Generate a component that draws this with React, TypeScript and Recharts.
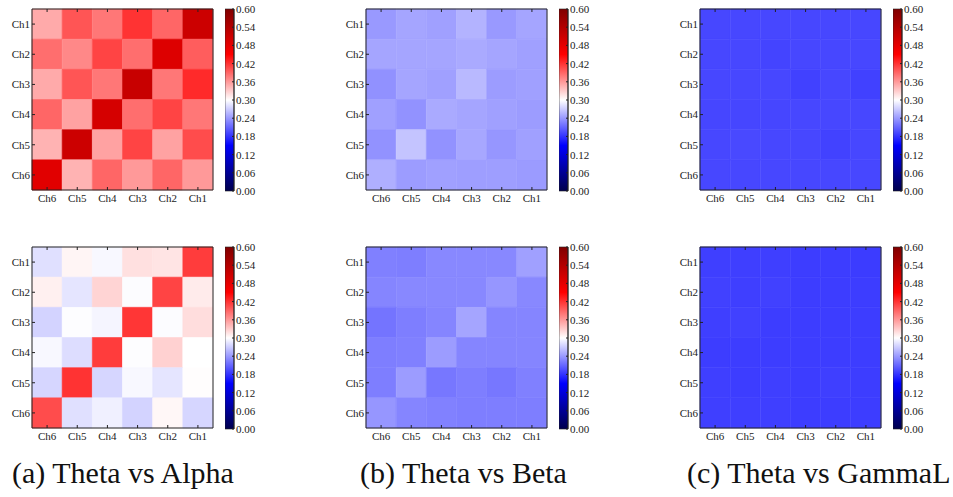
import React from "react";
import { Bar, BarChart, Cell, XAxis, YAxis } from "recharts";

// rows top -> bottom
const rowLabels = ["Ch1", "Ch2", "Ch3", "Ch4", "Ch5", "Ch6"];
// columns left -> right
const colLabels = ["Ch6", "Ch5", "Ch4", "Ch3", "Ch2", "Ch1"];
const colorbarTicks = [0, 0.06, 0.12, 0.18, 0.24, 0.3, 0.36, 0.42, 0.48, 0.54, 0.6];
const vmin = 0;
const vmax = 0.6;

const thetaAlphaTop = [
  [0.35, 0.4, 0.38, 0.42, 0.39, 0.51],
  [0.385, 0.37, 0.41, 0.385, 0.49, 0.395],
  [0.35, 0.4, 0.38, 0.515, 0.38, 0.425],
  [0.39, 0.355, 0.5, 0.385, 0.41, 0.38],
  [0.345, 0.51, 0.355, 0.41, 0.355, 0.405],
  [0.485, 0.345, 0.39, 0.36, 0.39, 0.36]
];

const thetaAlphaBottom = [
  [0.282, 0.306, 0.296, 0.318, 0.316, 0.415],
  [0.309, 0.285, 0.325, 0.298, 0.41, 0.312],
  [0.274, 0.299, 0.294, 0.418, 0.298, 0.32],
  [0.296, 0.28, 0.415, 0.299, 0.327, 0.3],
  [0.276, 0.42, 0.276, 0.296, 0.285, 0.301],
  [0.405, 0.282, 0.291, 0.274, 0.305, 0.276]
];

const thetaBetaTop = [
  [0.24, 0.247, 0.244, 0.255, 0.24, 0.247],
  [0.247, 0.247, 0.247, 0.25, 0.247, 0.244],
  [0.235, 0.247, 0.244, 0.259, 0.242, 0.244],
  [0.244, 0.236, 0.25, 0.247, 0.244, 0.242],
  [0.236, 0.265, 0.236, 0.248, 0.238, 0.244],
  [0.253, 0.242, 0.244, 0.243, 0.243, 0.241]
];

const thetaBetaBottom = [
  [0.225, 0.224, 0.23, 0.23, 0.23, 0.244],
  [0.228, 0.23, 0.23, 0.23, 0.238, 0.23],
  [0.218, 0.224, 0.228, 0.247, 0.228, 0.228],
  [0.224, 0.225, 0.242, 0.228, 0.228, 0.228],
  [0.224, 0.242, 0.22, 0.224, 0.22, 0.225],
  [0.238, 0.228, 0.226, 0.224, 0.224, 0.224]
];

const thetaGammaTop = [
  [0.192, 0.192, 0.192, 0.192, 0.192, 0.192],
  [0.192, 0.192, 0.19, 0.192, 0.192, 0.192],
  [0.192, 0.192, 0.192, 0.188, 0.192, 0.188],
  [0.191, 0.191, 0.191, 0.192, 0.192, 0.192],
  [0.192, 0.193, 0.192, 0.192, 0.189, 0.192],
  [0.192, 0.192, 0.192, 0.192, 0.192, 0.192]
];

const thetaGammaBottom = [
  [0.187, 0.187, 0.187, 0.186, 0.186, 0.185],
  [0.188, 0.187, 0.188, 0.186, 0.186, 0.186],
  [0.187, 0.188, 0.186, 0.186, 0.186, 0.186],
  [0.186, 0.186, 0.186, 0.186, 0.186, 0.186],
  [0.187, 0.186, 0.187, 0.186, 0.187, 0.186],
  [0.187, 0.187, 0.187, 0.186, 0.186, 0.186]
];

const captions = ["(a) Theta vs Alpha", "(b) Theta vs Beta", "(c) Theta vs GammaL"];

const INK = "#222";
const FONT = "'Liberation Serif', 'Times New Roman', Times, serif";
const TICK_LEN = 3;
const CELL_W = 181;

// matplotlib "seismic"
const seismicStops: [number, number[]][] = [
  [0, [0, 0, 77]],
  [0.25, [0, 0, 255]],
  [0.5, [255, 255, 255]],
  [0.75, [255, 0, 0]],
  [1, [128, 0, 0]]
];

function seismic(v: number) {
  const t = Math.min(1, Math.max(0, (v - vmin) / (vmax - vmin)));
  for (let i = 1; i < seismicStops.length; i++) {
    const [p1, c1] = seismicStops[i];
    const [p0, c0] = seismicStops[i - 1];
    if (t <= p1) {
      const f = (t - p0) / (p1 - p0);
      const c = c0.map((a, k) => Math.round(a + (c1[k] - a) * f));
      return `rgb(${c[0]},${c[1]},${c[2]})`;
    }
  }
  return "rgb(128,0,0)";
}

const cellData = colLabels.map((col) => {
  const d: Record<string, string | number> = { col };
  rowLabels.forEach((r) => (d[r] = 1));
  return d;
});

const BottomTick = (props: any) => {
  const { x, y, payload } = props;
  const axisY = y - 4;
  return (
    <g>
      <line x1={x} x2={x} y1={axisY} y2={axisY - TICK_LEN} stroke={INK} />
      <text x={x} y={y} dy="0.71em" textAnchor="middle" fontSize={11} fontFamily={FONT} fill={INK}>
        {payload.value}
      </text>
    </g>
  );
};

const LeftTick = (props: any) => {
  const { x, y, index } = props;
  const axisX = x + 2;
  return (
    <g>
      <line x1={axisX} x2={axisX + TICK_LEN} y1={y} y2={y} stroke={INK} />
      <text x={x} y={y} dy="0.355em" textAnchor="end" fontSize={11} fontFamily={FONT} fill={INK}>
        {rowLabels[index]}
      </text>
    </g>
  );
};

const TopTick = (props: any) => (
  <line x1={props.x} x2={props.x} y1={props.y} y2={props.y + TICK_LEN} stroke={INK} />
);

const RightTick = (props: any) => (
  <line x1={props.x} x2={props.x - TICK_LEN} y1={props.y} y2={props.y} stroke={INK} />
);

const ColorbarTick = (props: any) => {
  const { x, y, payload } = props;
  const axisX = x - 2;
  return (
    <g>
      <line x1={axisX} x2={axisX - 2} y1={y} y2={y} stroke={INK} />
      <text x={x} y={y} dy="0.355em" textAnchor="start" fontSize={11} fontFamily={FONT} fill={INK}>
        {Number(payload.value).toFixed(2)}
      </text>
    </g>
  );
};

function Heatmap({ matrix, left, top }: { matrix: number[][]; left: number; top: number }) {
  const rowTicks = rowLabels.map((_, i) => i + 0.5);
  return (
    <div style={{ position: "absolute", left, top }}>
      <BarChart
        width={32 + CELL_W + 5}
        height={9 + CELL_W + 20}
        data={cellData}
        margin={{ top: 0, right: 0, bottom: 0, left: 0 }}
        barCategoryGap={0}
        barGap={0}
      >
        <XAxis
          xAxisId="bottom"
          dataKey="col"
          height={20}
          interval={0}
          tickSize={0}
          tickMargin={4}
          tick={<BottomTick />}
          axisLine={{ stroke: INK }}
        />
        <XAxis
          xAxisId="top"
          orientation="top"
          dataKey="col"
          height={9}
          interval={0}
          tickSize={0}
          tickMargin={0}
          tick={<TopTick />}
          axisLine={{ stroke: INK }}
        />
        <YAxis
          yAxisId="left"
          type="number"
          domain={[0, rowLabels.length]}
          ticks={rowTicks}
          reversed
          width={32}
          interval={0}
          tickSize={0}
          tickMargin={2}
          tick={<LeftTick />}
          axisLine={{ stroke: INK }}
        />
        <YAxis
          yAxisId="right"
          orientation="right"
          type="number"
          domain={[0, rowLabels.length]}
          ticks={rowTicks}
          reversed
          width={5}
          interval={0}
          tickSize={0}
          tickMargin={0}
          tick={<RightTick />}
          axisLine={{ stroke: INK }}
        />
        {rowLabels.map((r, i) => (
          <Bar key={r} dataKey={r} stackId="m" xAxisId="bottom" yAxisId="left" isAnimationActive={false}>
            {colLabels.map((c, j) => {
              const fill = seismic(matrix[i][j]);
              return <Cell key={c} fill={fill} stroke={fill} strokeWidth={0.6} />;
            })}
          </Bar>
        ))}
      </BarChart>
    </div>
  );
}

function Colorbar({ left, top, id }: { left: number; top: number; id: string }) {
  // gradient runs top (vmax) to bottom (vmin), so offsets ascend in reverse stop order
  const stops = [...seismicStops].reverse();
  return (
    <div style={{ position: "absolute", left, top }}>
      <BarChart
        width={9 + 41}
        height={200}
        data={[{ name: "cb", v: vmax }]}
        margin={{ top: 9, right: 0, bottom: 9, left: 0 }}
        barCategoryGap={0}
      >
        <defs>
          <linearGradient id={id} x1="0" y1="0" x2="0" y2="1">
            {stops.map(([p, c]) => (
              <stop key={p} offset={1 - p} stopColor={`rgb(${c[0]},${c[1]},${c[2]})`} />
            ))}
          </linearGradient>
        </defs>
        <XAxis dataKey="name" hide />
        <YAxis
          orientation="right"
          type="number"
          domain={[vmin, vmax]}
          ticks={colorbarTicks}
          width={41}
          interval={0}
          tickSize={0}
          tickMargin={2}
          tick={<ColorbarTick />}
          axisLine={{ stroke: INK }}
        />
        <Bar dataKey="v" fill={`url(#${id})`} stroke={INK} strokeWidth={0.6} isAnimationActive={false} />
      </BarChart>
    </div>
  );
}

const panels = [
  { top: thetaAlphaTop, bottom: thetaAlphaBottom },
  { top: thetaBetaTop, bottom: thetaBetaBottom },
  { top: thetaGammaTop, bottom: thetaGammaBottom }
];

const captionLeft = [12, 360, 687];

export default function App() {
  return (
    <div style={{ position: "absolute", left: 0, top: 0, width: 953, height: 497, background: "#fff", overflow: "hidden" }}>
      {panels.map((p, k) => (
        <React.Fragment key={k}>
          <Heatmap matrix={p.top} left={334 * k} top={0} />
          <Heatmap matrix={p.bottom} left={334 * k} top={238} />
          <Colorbar left={225 + 334 * k} top={0} id={`cb-top-${k}`} />
          <Colorbar left={225 + 334 * k} top={238} id={`cb-bot-${k}`} />
          <div
            style={{
              position: "absolute",
              left: captionLeft[k],
              top: 453,
              fontFamily: FONT,
              fontSize: 30,
              lineHeight: "40px",
              color: "#111",
              whiteSpace: "nowrap"
            }}
          >
            {captions[k]}
          </div>
        </React.Fragment>
      ))}
    </div>
  );
}
